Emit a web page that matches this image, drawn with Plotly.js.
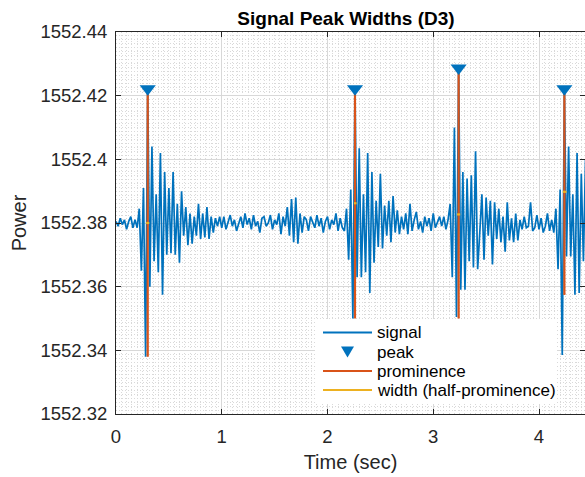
<!DOCTYPE html>
<html>
<head>
<meta charset="utf-8">
<script src="https://cdn.plot.ly/plotly-3.0.1.min.js"></script>
<style>html,body{margin:0;padding:0;background:#fff;}#chart{width:585px;height:477px;}</style>
</head>
<body>
<div id="chart"></div>
<script>
// Signal samples (Power), uniformly sampled from t = 0 s every 0.02 s
const sampleStart = 0;
const sampleStep = 0.02;
const signal = [
1552.3805,1552.3790,1552.3815,1552.3795,1552.3810,1552.3780,1552.3805,1552.3820,1552.3785,1552.3810,
1552.3785,1552.3845,1552.3650,1552.3910,1552.3380,1552.4222,1552.3600,1552.4040,1552.3680,1552.3890,
1552.3645,1552.4020,1552.3575,1552.3960,1552.3700,1552.3910,1552.3705,1552.3960,1552.3700,1552.3860,
1552.3675,1552.3900,1552.3760,1552.3850,1552.3730,1552.3830,1552.3735,1552.3820,1552.3760,1552.3860,
1552.3750,1552.3830,1552.3755,1552.3850,1552.3750,1552.3820,1552.3770,1552.3815,1552.3790,1552.3820,
1552.3785,1552.3820,1552.3780,1552.3805,1552.3825,1552.3790,1552.3810,1552.3775,1552.3800,1552.3820,
1552.3785,1552.3830,1552.3795,1552.3815,1552.3780,1552.3825,1552.3790,1552.3805,1552.3770,1552.3815,
1552.3820,1552.3790,1552.3800,1552.3825,1552.3780,1552.3810,1552.3795,1552.3830,1552.3765,1552.3820,
1552.3790,1552.3850,1552.3760,1552.3875,1552.3740,1552.3880,1552.3735,1552.3830,1552.3770,1552.3820,
1552.3810,1552.3775,1552.3820,1552.3800,1552.3785,1552.3825,1552.3790,1552.3815,1552.3770,1552.3805,
1552.3820,1552.3780,1552.3810,1552.3795,1552.3830,1552.3775,1552.3815,1552.3785,1552.3775,1552.3845,
1552.3685,1552.3905,1552.3500,1552.4222,1552.3630,1552.4035,1552.3630,1552.3890,1552.3645,1552.4020,
1552.3580,1552.3960,1552.3675,1552.3870,1552.3725,1552.3955,1552.3720,1552.3855,1552.3760,1552.3870,
1552.3740,1552.3885,1552.3770,1552.3840,1552.3765,1552.3820,1552.3780,1552.3830,1552.3765,1552.3860,
1552.3775,1552.3810,1552.3835,1552.3780,1552.3805,1552.3770,1552.3820,1552.3790,1552.3815,1552.3775,
1552.3830,1552.3785,1552.3805,1552.3820,1552.3790,1552.3820,1552.3780,1552.3810,1552.3860,1552.3630,
1552.4100,1552.3505,1552.4287,1552.3590,1552.3960,1552.3590,1552.3940,1552.3680,1552.3950,1552.3660,
1552.4025,1552.3655,1552.3770,1552.3890,1552.3685,1552.3880,1552.3760,1552.3870,1552.3670,1552.3865,
1552.3750,1552.3845,1552.3740,1552.3820,1552.3710,1552.3865,1552.3745,1552.3815,1552.3740,1552.3830,
1552.3745,1552.3810,1552.3780,1552.3820,1552.3785,1552.3790,1552.3865,1552.3775,1552.3785,1552.3825,
1552.3780,1552.3815,1552.3770,1552.3790,1552.3830,1552.3775,1552.3810,1552.3770,1552.3845,1552.3655,
1552.3905,1552.3385,1552.4222,1552.3695,1552.4040,1552.3695,1552.3890,1552.3575,1552.4020,1552.3580,
1552.3955,1552.3680,1552.4000
];

// Detected peaks
const peakTime = [0.30, 2.26, 3.24, 4.24];
const peakValue = [1552.4222, 1552.4222, 1552.4287, 1552.4222];
// Prominence reference (bottom of each prominence line)
const prominenceBase = [1552.3380, 1552.3500, 1552.3500, 1552.3574];
// Width at half prominence
const widthLeft = [0.285, 2.250, 3.225, 4.225];
const widthRight = [0.315, 2.275, 3.255, 4.260];
const widthLevel = [1552.3800, 1552.3862, 1552.3827, 1552.3898];

// Axis ticks
const xTickVals = [0, 1, 2, 3, 4];
const yTickVals = [1552.32, 1552.34, 1552.36, 1552.38, 1552.40, 1552.42, 1552.44];
const yTickText = ['1552.32', '1552.34', '1552.36', '1552.38', '1552.4', '1552.42', '1552.44'];

// Legend entries
const legendLabels = ['signal', 'peak', 'prominence', 'width (half-prominence)'];

const BLUE = '#0072BD', ORANGE = '#D95319', YELLOW = '#EDB120';
const legendKinds = ['line', 'marker', 'line', 'line'];
const legendColors = [BLUE, BLUE, ORANGE, YELLOW];

const promX = [], promY = [];
peakTime.forEach((t, i) => { promX.push(t, t, null); promY.push(peakValue[i], prominenceBase[i], null); });
const widX = [], widY = [];
widthLeft.forEach((l, i) => { widX.push(l, widthRight[i], null); widY.push(widthLevel[i], widthLevel[i], null); });

const traces = [
  {type:'scatter', mode:'lines', name:'signal', y:signal, x0:sampleStart, dx:sampleStep,
   line:{color:BLUE, width:1.7}},
  {type:'scatter', mode:'lines', name:'prominence', x:promX, y:promY,
   line:{color:ORANGE, width:2.2}},
  {type:'scatter', mode:'lines', name:'width (half-prominence)', x:widX, y:widY,
   line:{color:YELLOW, width:2.2}},
  {type:'scatter', mode:'markers', name:'peak', x:peakTime, y:peakValue,
   marker:{symbol:'triangle-down', size:14, color:BLUE}}
];

// Plot-area geometry (pixels) for the legend box placement
const PL = 116, PR = 585, PT = 32, PB = 414;
const px2x = p => (p - PL) / (PR - PL);
const px2y = p => (PB - p) / (PB - PT);

const shapes = [], annotations = [];
shapes.push({type:'rect', xref:'paper', yref:'paper', x0:px2x(315), x1:px2x(557), y0:px2y(319), y1:px2y(404),
             fillcolor:'#ffffff', line:{width:0}, layer:'above'});
const rowY = [332.5, 352, 371, 390];
legendLabels.forEach((lab, i) => {
  const yy = px2y(rowY[i]);
  if (legendKinds[i] === 'line') {
    shapes.push({type:'line', xref:'paper', yref:'paper', x0:px2x(323), x1:px2x(372), y0:yy, y1:yy,
                 line:{color:legendColors[i], width:2}, layer:'above'});
  } else {
    const cx = 347.5, cy = rowY[i];
    shapes.push({type:'path', xref:'paper', yref:'paper',
                 path:`M ${px2x(cx-6.5)} ${px2y(cy-5.5)} L ${px2x(cx+6.5)} ${px2y(cy-5.5)} L ${px2x(cx)} ${px2y(cy+5.5)} Z`,
                 fillcolor:legendColors[i], line:{width:0}, layer:'above'});
  }
  annotations.push({xref:'paper', yref:'paper', x:px2x(375), y:yy, xanchor:'left', yanchor:'middle',
                    text:lab, showarrow:false, font:{size:17, color:'#000000'}});
});

const AX = '#262626';
const layout = {
  width:585, height:477,
  margin:{l:PL, r:585-PR, t:PT, b:477-PB, pad:0},
  paper_bgcolor:'#ffffff', plot_bgcolor:'#ffffff',
  font:{family:'"Liberation Sans", Arial, sans-serif', color:AX},
  showlegend:false,
  shapes:shapes, annotations:annotations,
  title:{text:'<b>Signal Peak Widths (D3)</b>', font:{size:19, color:'#000000'},
         x:346/585, xanchor:'center', y:1-18/477, yanchor:'middle'},
  xaxis:{range:[0, 4.435], tickvals:xTickVals, ticks:'inside', ticklen:5, tickwidth:1, tickcolor:AX,
         showline:true, linecolor:AX, linewidth:1, mirror:'ticks', zeroline:false,
         showgrid:true, gridcolor:'#d8d8d8', gridwidth:1,
         tickfont:{size:18.5, color:AX}, ticklabelstandoff:6,
         minor:{dtick:0.05, tick0:0, showgrid:true, gridcolor:'#d9d9d9', griddash:'1px,2px', gridwidth:1},
         title:{text:'Time (sec)', font:{size:20, color:AX}, standoff:8}},
  yaxis:{range:[1552.32, 1552.44], tickvals:yTickVals, ticktext:yTickText, ticks:'inside', ticklen:5, tickwidth:1, tickcolor:AX,
         showline:true, linecolor:AX, linewidth:1, mirror:'ticks', zeroline:false,
         showgrid:true, gridcolor:'#d8d8d8', gridwidth:1,
         tickfont:{size:18.5, color:AX}, ticklabelstandoff:4,
         minor:{dtick:0.00125, tick0:1552.32, showgrid:true, gridcolor:'#d9d9d9', griddash:'1px,2px', gridwidth:1},
         title:{text:'Power', font:{size:20, color:AX}, standoff:8}}
};

Plotly.newPlot('chart', traces, layout, {staticPlot:true, displayModeBar:false});
</script>
</body>
</html>
